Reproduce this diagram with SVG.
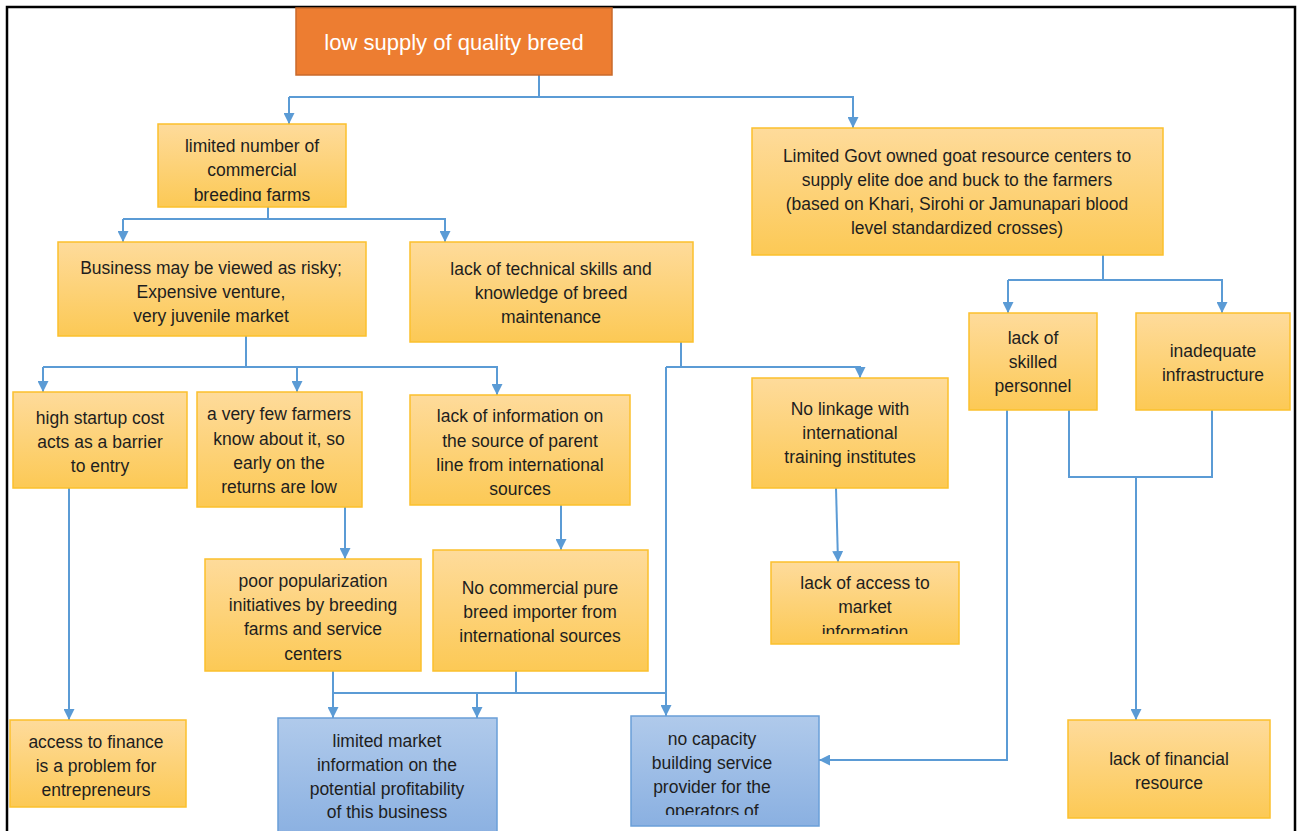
<svg xmlns="http://www.w3.org/2000/svg" width="1301" height="831" viewBox="0 0 1301 831">
  <defs>
    <linearGradient id="gold" x1="0" y1="0" x2="0" y2="1">
      <stop offset="0" stop-color="#FEDB9B"/>
      <stop offset="1" stop-color="#FCC955"/>
    </linearGradient>
    <linearGradient id="blue" x1="0" y1="0" x2="0" y2="1">
      <stop offset="0" stop-color="#B0CAEB"/>
      <stop offset="1" stop-color="#8AB0E1"/>
    </linearGradient>
    <marker id="arr" viewBox="0 0 10 10" refX="10" refY="5" markerWidth="11" markerHeight="11" markerUnits="userSpaceOnUse" orient="auto">
      <path d="M0,0 L10,5 L0,10 z" fill="#5B9BD5"/>
    </marker>
    <!-- text areas that cut off the last line -->
    <clipPath id="c-farms"><rect x="158" y="124" width="188" height="77"/></clipPath>
    <clipPath id="c-access"><rect x="771" y="562" width="188" height="72"/></clipPath>
    <clipPath id="c-capacity"><rect x="631" y="716" width="188" height="99"/></clipPath>
  </defs>
  <style>
    .g { fill: url(#gold); stroke: #FBC02D; stroke-width: 1.5; }
    .b { fill: url(#blue); stroke: #6A9FD8; stroke-width: 1.5; }
    .o { fill: #ED7D31; stroke: #C96A2B; stroke-width: 1.5; }
    text { font-family: "Liberation Sans", Arial, sans-serif; font-size: 17.5px; fill: #1E1E1E; text-anchor: middle; }
    .w { fill: #FFFFFF; font-size: 22px; }
    .c { fill: none; stroke: #5B9BD5; stroke-width: 2; }
    .a { marker-end: url(#arr); }
  </style>

  <rect x="7" y="7" width="1288" height="830" fill="#FFFFFF" stroke="#000000" stroke-width="2.5"/>

  <g id="connectors">
    <!-- root split -->
    <path class="c" d="M539,75 V97 H289"/>
    <path class="c a" d="M289,97 V124"/>
    <path class="c a" d="M539,97 H853 V128"/>
    <!-- commercial farms split -->
    <path class="c" d="M268,195 V219 H123"/>
    <path class="c a" d="M123,219 V242"/>
    <path class="c a" d="M268,219 H445 V242"/>
    <!-- govt centres split -->
    <path class="c" d="M1103,255 V280 H1008"/>
    <path class="c a" d="M1008,280 V313"/>
    <path class="c a" d="M1103,280 H1222 V313"/>
    <!-- business split -->
    <path class="c" d="M246,336 V367 H43"/>
    <path class="c a" d="M43,367 V392"/>
    <path class="c a" d="M246,367 H297 V392"/>
    <path class="c a" d="M297,367 H497 V395"/>
    <!-- technical skills split -->
    <path class="c" d="M681,342 V367 H666"/>
    <path class="c a" d="M681,367 H860 V378"/>
    <path class="c a" d="M666,367 V716"/>
    <!-- linkage to market information -->
    <path class="c a" d="M836,488 L838,562"/>
    <!-- few farmers / parent line -->
    <path class="c a" d="M345,507 V559"/>
    <path class="c a" d="M561,505 V550"/>
    <!-- popularization / importer into market info -->
    <path class="c a" d="M333,671 V718"/>
    <path class="c" d="M516,671 V693"/>
    <path class="c" d="M333,693 H666"/>
    <path class="c a" d="M477,693 V718"/>
    <!-- startup cost to finance -->
    <path class="c a" d="M69,488 V720"/>
    <!-- skilled personnel to capacity provider -->
    <path class="c a" d="M1007,410 V760 H819"/>
    <!-- personnel + infrastructure to financial resource -->
    <path class="c" d="M1069,410 V477 H1212 V410"/>
    <path class="c a" d="M1136,477 V720"/>
  </g>

  <g id="n-root">
    <rect class="o" x="296" y="8" width="316" height="67"/>
    <text class="w" x="454" y="50">low supply of quality breed</text>
  </g>

  <g id="n-farms">
    <rect class="g" x="158" y="124" width="188" height="83"/>
    <g clip-path="url(#c-farms)">
      <text x="252" y="152">limited number of</text>
      <text x="252" y="176">commercial</text>
      <text x="252" y="201">breeding farms</text>
    </g>
  </g>

  <g id="n-govt">
    <rect class="g" x="752" y="128" width="411" height="127"/>
    <text x="957" y="162">Limited Govt owned goat resource centers to</text>
    <text x="957" y="186">supply elite doe and buck to the farmers</text>
    <text x="957" y="210">(based on Khari, Sirohi or Jamunapari blood</text>
    <text x="957" y="234">level standardized crosses)</text>
  </g>

  <g id="n-business">
    <rect class="g" x="58" y="242" width="308" height="94"/>
    <text x="211" y="274">Business may be viewed as risky;</text>
    <text x="211" y="298">Expensive venture,</text>
    <text x="211" y="322">very juvenile market</text>
  </g>

  <g id="n-skills">
    <rect class="g" x="410" y="242" width="283" height="100"/>
    <text x="551" y="275">lack of technical skills and</text>
    <text x="551" y="299">knowledge of breed</text>
    <text x="551" y="323">maintenance</text>
  </g>

  <g id="n-personnel">
    <rect class="g" x="969" y="313" width="128" height="97"/>
    <text x="1033" y="344">lack of</text>
    <text x="1033" y="368">skilled</text>
    <text x="1033" y="392">personnel</text>
  </g>

  <g id="n-infra">
    <rect class="g" x="1136" y="313" width="154" height="97"/>
    <text x="1213" y="357">inadequate</text>
    <text x="1213" y="381">infrastructure</text>
  </g>

  <g id="n-startup">
    <rect class="g" x="13" y="392" width="174" height="96"/>
    <text x="100" y="424">high startup cost</text>
    <text x="100" y="448">acts as a barrier</text>
    <text x="100" y="472">to entry</text>
  </g>

  <g id="n-few">
    <rect class="g" x="197" y="392" width="165" height="115"/>
    <text x="279" y="420">a very few farmers</text>
    <text x="279" y="445">know about it, so</text>
    <text x="279" y="469">early on the</text>
    <text x="279" y="493">returns are low</text>
  </g>

  <g id="n-parent">
    <rect class="g" x="410" y="395" width="220" height="110"/>
    <text x="520" y="422">lack of information on</text>
    <text x="520" y="447">the source of parent</text>
    <text x="520" y="471">line from international</text>
    <text x="520" y="495">sources</text>
  </g>

  <g id="n-linkage">
    <rect class="g" x="752" y="378" width="196" height="110"/>
    <text x="850" y="415">No linkage with</text>
    <text x="850" y="439">international</text>
    <text x="850" y="463">training institutes</text>
  </g>

  <g id="n-access">
    <rect class="g" x="771" y="562" width="188" height="82"/>
    <g clip-path="url(#c-access)">
      <text x="865" y="589">lack of access to</text>
      <text x="865" y="613">market</text>
      <text x="865" y="638">information</text>
    </g>
  </g>

  <g id="n-popular">
    <rect class="g" x="205" y="559" width="216" height="112"/>
    <text x="313" y="587">poor popularization</text>
    <text x="313" y="611">initiatives by breeding</text>
    <text x="313" y="635">farms and service</text>
    <text x="313" y="660">centers</text>
  </g>

  <g id="n-importer">
    <rect class="g" x="433" y="550" width="215" height="121"/>
    <text x="540" y="594">No commercial pure</text>
    <text x="540" y="618">breed importer from</text>
    <text x="540" y="642">international sources</text>
  </g>

  <g id="n-finance">
    <rect class="g" x="10" y="720" width="176" height="87"/>
    <text x="96" y="748">access to finance</text>
    <text x="96" y="772">is a problem for</text>
    <text x="96" y="796">entrepreneurs</text>
  </g>

  <g id="n-market-info">
    <rect class="b" x="278" y="718" width="219" height="120"/>
    <text x="387" y="747">limited market</text>
    <text x="387" y="771">information on the</text>
    <text x="387" y="795">potential profitability</text>
    <text x="387" y="818">of this business</text>
  </g>

  <g id="n-capacity">
    <rect class="b" x="631" y="716" width="188" height="110"/>
    <g clip-path="url(#c-capacity)">
      <text x="712" y="745">no capacity</text>
      <text x="712" y="769">building service</text>
      <text x="712" y="793">provider for the</text>
      <text x="712" y="817">operators of</text>
    </g>
  </g>

  <g id="n-financial">
    <rect class="g" x="1068" y="720" width="202" height="98"/>
    <text x="1169" y="765">lack of financial</text>
    <text x="1169" y="789">resource</text>
  </g>
</svg>
